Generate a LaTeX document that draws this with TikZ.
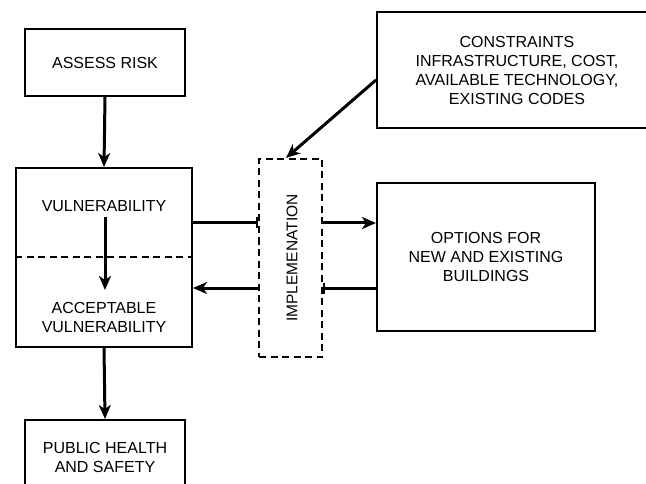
\documentclass[tikz,border=0pt]{standalone}
\usepackage{fontspec}
\setmainfont{Liberation Sans}
\usetikzlibrary{arrows.meta}
\begin{document}
\begin{tikzpicture}[x=1pt,y=-1pt,
  box/.style={draw,line width=2pt,rectangle,inner sep=0pt,align=center,font=\fontsize{16}{19}\selectfont},
  txt/.style={inner sep=0pt,align=center,font=\fontsize{16}{19}\selectfont},
  arr/.style={line width=3pt,-{Stealth[length=14pt,width=12pt,inset=4pt]}},
  barline/.style={line width=3pt,-{Bar[width=11pt,line width=2.2pt]}},
  dashbox/.style={draw,line width=2pt,dash pattern=on 7pt off 4.5pt,rectangle,inner sep=0pt}]
\clip (0,0) rectangle (646,484);
\fill[white] (0,0) rectangle (646,484);
% nodes
\node[box,minimum width=160pt,minimum height=67pt] (risk) at (105,62.5) {ASSESS RISK};
\node[box,minimum width=176pt,minimum height=179pt] (vuln) at (104,257.5) {};
\node[txt] (vtext) at (104,206) {VULNERABILITY};
\node[txt] (atext) at (104,317) {ACCEPTABLE\\VULNERABILITY};
\node[box,minimum width=160pt,minimum height=75pt] (pub) at (105,457.5) {PUBLIC HEALTH\\AND SAFETY};
\node[dashbox,minimum width=63pt,minimum height=198pt] (impl) at (290.5,258) {};
\node[txt,rotate=90,font=\fontsize{15.5}{19}\selectfont] (itext) at (292,258) {IMPLEMENATION};
\node[box,minimum width=218pt,minimum height=148pt] (opts) at (486,257) {OPTIONS FOR\\NEW AND EXISTING\\BUILDINGS};
\node[box,minimum width=280pt,minimum height=116pt] (cons) at (517,70) {CONSTRAINTS\\INFRASTRUCTURE, COST,\\AVAILABLE TECHNOLOGY,\\EXISTING CODES};
% dashed divider
\draw[line width=2pt,dash pattern=on 7pt off 4.5pt] (vuln.west |- 0,257) -- (vuln.east |- 0,257);
% connectors
\draw[arr] (risk.south) -- (vuln.north);
\coordinate (vin) at (105,217);
\coordinate (vout) at (105,290);
\draw[arr] (vin) -- (vout);
\draw[arr] (vuln.south) -- (pub.north);
\draw[arr] ([yshift=-10pt]cons.west) -- ([xshift=-4.5pt]impl.north);
\draw[barline] (vuln.east |- 0,223) -- (impl.west |- 0,223);
\draw[arr] (impl.east |- 0,223) -- (opts.west |- 0,223);
\draw[barline] (opts.west |- 0,288) -- (impl.east |- 0,288);
\draw[arr] (impl.west |- 0,288) -- (vuln.east |- 0,288);
\end{tikzpicture}
\end{document}
